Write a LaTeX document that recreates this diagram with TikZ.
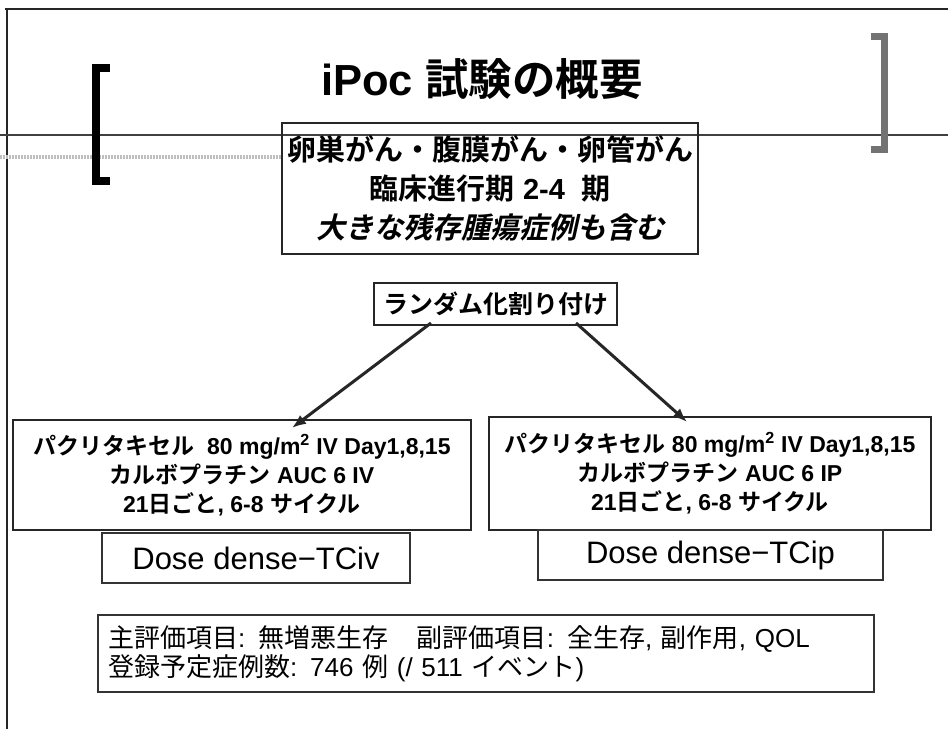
\documentclass[tikz,border=0pt]{standalone}
\usepackage{fontspec}
\setmainfont{Liberation Sans}
\newfontfamily\jpfamily{Noto Sans CJK JP}[CharacterWidth=Proportional,
  BoldFont={Noto Sans CJK JP Bold},
  ItalicFont={Noto Sans CJK JP}, ItalicFeatures={FakeSlant=0.22},
  BoldItalicFont={Noto Sans CJK JP Bold}, BoldItalicFeatures={FakeSlant=0.22}]
\newcommand\J[1]{{\jpfamily #1}}
\usetikzlibrary{arrows.meta}
\begin{document}
\begin{tikzpicture}[x=1pt,y=-1pt,
  mainbox/.style={draw=black!85, line width=2pt, minimum width=#1, inner sep=0pt, align=center},
  mainbox/.default=100pt,
  thinbox/.style={draw=black!80, line width=1.2pt, inner sep=0pt, align=center},
  arr/.style={draw=black!85, line width=3pt, -{Latex[length=14pt,width=11pt]}},
  txt/.style={inner sep=0pt}]
\useasboundingbox (0,0) rectangle (948,729);
\fill[white] (0,0) rectangle (948,729);
% frame
\draw[black!85, line width=2pt] (5,9) -- (948,9);
\draw[black!85, line width=2pt] (7,8) -- (7,729);
\draw[black!75, line width=1.3pt] (0,135) -- (948,135);
\draw[black!25, line width=3.5pt, dash pattern=on 2pt off 1pt] (0,157) -- (282,157);
% brackets
\draw[black, line width=8pt, line cap=butt, line join=miter] (110,68) -- (96,68) -- (96,181) -- (110,181);
\draw[black!55, line width=7pt, line cap=butt, line join=miter] (871,36) -- (884,36) -- (884,149) -- (871,149);
% title
\node[txt, anchor=base, font=\fontsize{43.5}{52}\selectfont\bfseries] (title) at (482,95) {iPoc \J{試験の概要}};
% population box
\node[mainbox, line width=1.5pt, minimum width=416pt, minimum height=131pt,
  font=\fontsize{29}{39}\selectfont\bfseries] (pop) at (490,188.5)
  {\J{卵巣がん・腹膜がん・卵管がん}\\ \J{臨床進行期} 2-4\ \ \J{期}\\ {\itshape\J{大きな残存腫瘍症例も含む}}};
% randomisation
\node[mainbox, minimum width=243pt, minimum height=42pt,
  font=\fontsize{25}{30}\selectfont\bfseries] (rand) at (495.5,304) {\J{ランダム化割り付け}};
% arms
\node[mainbox, line width=2.2pt, minimum width=458pt, minimum height=110pt,
  font=\fontsize{23}{29}\selectfont\bfseries] (lbox) at (242,475)
  {\J{パクリタキセル}\ \ 80 mg/m\textsuperscript{2} IV Day1,8,15\\ \J{カルボプラチン} AUC 6 IV\\ 21\J{日ごと}, 6-8 \J{サイクル}};
\node[mainbox, line width=2.2pt, minimum width=442pt, minimum height=113pt,
  font=\fontsize{23}{29}\selectfont\bfseries] (rbox) at (710,473.5)
  {\J{パクリタキセル} 80 mg/m\textsuperscript{2} IV Day1,8,15\\ \J{カルボプラチン} AUC 6 IP\\ 21\J{日ごと}, 6-8 \J{サイクル}};
\node[thinbox, minimum width=308pt, minimum height=50pt, font=\fontsize{31}{36}\selectfont] (tciv) at (256,558) {Dose dense−TCiv};
\node[thinbox, minimum width=345pt, minimum height=50pt, font=\fontsize{31}{36}\selectfont] (tcip) at (710.5,555) {Dose dense−TCip};
% endpoints
\node[thinbox, line width=1.4pt, minimum width=776pt, minimum height=77pt, text width=756pt, align=left,
  font=\fontsize{26}{29}\selectfont] (endp) at (486,653.5)
  {\J{主評価項目}: \J{無増悪生存}\hspace{1.1em}\J{副評価項目}: \J{全生存}, \J{副作用}, QOL\\ \J{登録予定症例数}: 746 \J{例} (/ 511 \J{イベント})};
% arrows
\draw[arr] ([xshift=58pt,yshift=3pt]rand.south west) -- ([xshift=50pt,yshift=-9pt]lbox.north);
\draw[arr] ([xshift=-42pt,yshift=3pt]rand.south east) -- ([xshift=-23pt,yshift=-6pt]rbox.north);
\end{tikzpicture}
\end{document}
